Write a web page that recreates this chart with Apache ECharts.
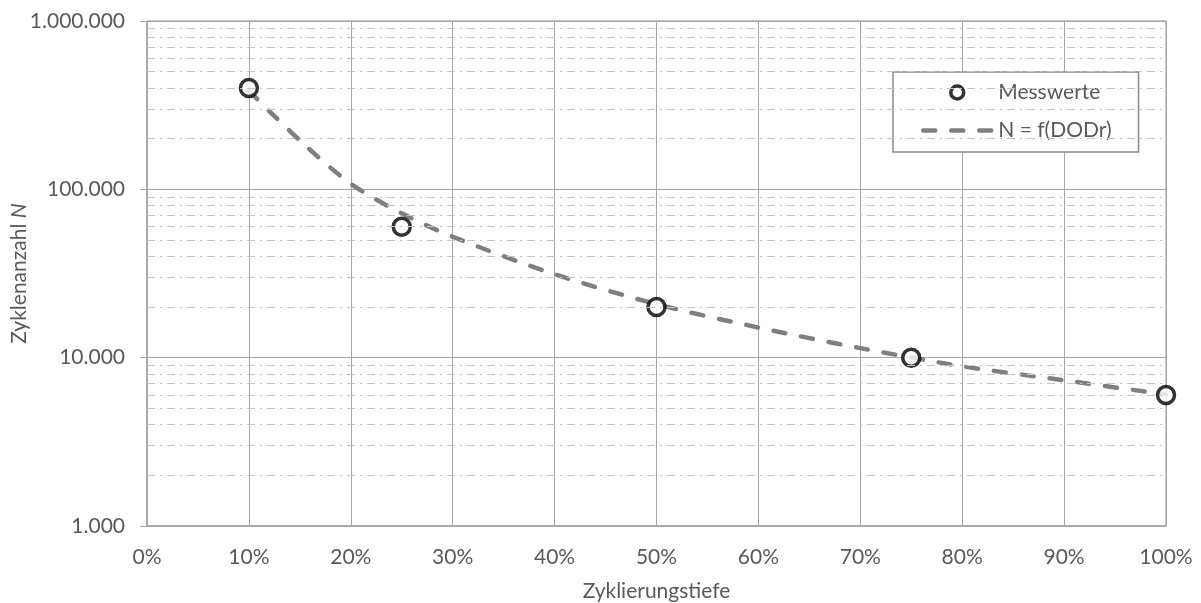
<!DOCTYPE html>
<html>
<head>
    <meta charset="utf-8">
    <title>Zyklenanzahl</title>
    <script src="https://cdn.jsdelivr.net/npm/echarts@6/dist/echarts.min.js"></script>
    <style>
        body { margin: 0; background: #fff; }
        #chart { width: 1201px; height: 603px; }
    </style>
</head>
<body>
    <div id="chart"></div>
    <script type="text/javascript">
        // Messwerte: Zyklierungstiefe (%) / Zyklenanzahl
        var messX = [10, 25, 50, 75, 100];
        var messN = [400000, 60000, 20000, 10000, 6000];

        // Trendlinie N = f(DODr)
        var fitX = [10, 15, 20, 25, 30, 40, 50, 60, 70, 80, 90, 100];
        var fitN = [385000, 195000, 108000, 72000, 52300, 31300, 20800, 15100, 11400, 8890, 7340, 6040];

        // Hilfsgitterlinien (2..9 je Dekade)
        var minorGrid = [2000, 3000, 4000, 5000, 6000, 7000, 8000, 9000,
                         20000, 30000, 40000, 50000, 60000, 70000, 80000, 90000,
                         200000, 300000, 400000, 500000, 600000, 700000, 800000, 900000];

        var font = 'Lato';
        var textCol = '#595959';

        function punkte(v){
            return String(v).replace(/\B(?=(\d{3})+(?!\d))/g, '.');
        }

        var messData = [];
        for (var i=0; i<messX.length; i++) messData.push([messX[i], messN[i]]);
        var fitData = [];
        for (var j=0; j<fitX.length; j++) fitData.push([fitX[j], fitN[j]]);
        var minorLines = [];
        for (var k=0; k<minorGrid.length; k++) minorLines.push({ yAxis: minorGrid[k] });

        var myChart = echarts.init(document.getElementById('chart'));
        var option = {
            animation: false,
            grid: { left: 147, right: 35, top: 21, bottom: 77, outerBoundsMode: 'none', containLabel: false,
                    show: true, borderColor: '#8a8a8a', borderWidth: 1 },
            legend: {
                orient: 'vertical',
                left: 893, top: 72,
                data: [
                    { name: 'Messwerte', itemStyle: { color: '#fff', borderColor: '#000', borderWidth: 3.5 } },
                    { name: 'N = f(DODr)', itemStyle: { opacity: 0 },
                      lineStyle: { width: 4.5, type: [12, 16], cap: 'round', color: '#7f7f7f' } }
                ],
                backgroundColor: '#fff',
                borderColor: '#8a8a8a', borderWidth: 1.5,
                padding: [10, 27, 11, 28],
                itemWidth: 68, itemHeight: 13, itemGap: 17,
                textStyle: { fontFamily: font, fontSize: 21, color: textCol, padding: [0, 0, 0, 2] }
            },
            xAxis: {
                type: 'value', min: 0, max: 100, interval: 10,
                name: 'Zyklierungstiefe', nameLocation: 'middle', nameGap: 55, nameMoveOverlap: false,
                nameTextStyle: { fontFamily: font, fontSize: 21, color: textCol },
                axisLine: { lineStyle: { color: '#a6a6a6', width: 1.5 } },
                axisTick: { show: false },
                axisLabel: { formatter: '{value}%', fontFamily: font, fontSize: 21, color: textCol, margin: 21 },
                splitLine: { lineStyle: { color: '#a6a6a6', width: 1 } }
            },
            yAxis: {
                type: 'log', logBase: 10, min: 1000, max: 1000000,
                name: '{a|Zyklenanzahl }{b|N}', nameLocation: 'middle', nameGap: 117, nameMoveOverlap: false,
                nameTextStyle: {
                    rich: {
                        a: { fontFamily: font, fontSize: 21, color: textCol },
                        b: { fontFamily: font, fontSize: 21, color: textCol, fontStyle: 'italic' }
                    }
                },
                axisLine: { show: true, lineStyle: { color: '#a6a6a6', width: 1.5 } },
                axisTick: { show: true, length: 7, lineStyle: { color: '#a6a6a6' } },
                axisLabel: { formatter: punkte, fontFamily: font, fontSize: 21, color: textCol, margin: 22 },
                splitLine: { lineStyle: { color: '#a6a6a6', width: 1 } }
            },
            series: [
                {
                    name: 'hilfsgitter', type: 'line', data: [], z: 1, silent: true,
                    markLine: {
                        silent: true, symbol: 'none', label: { show: false },
                        lineStyle: { color: '#c4c4c4', width: 1, type: [8, 5, 2, 5] },
                        data: minorLines
                    }
                },
                {
                    name: 'N = f(DODr)', type: 'line', data: fitData, smooth: 0.3,
                    symbol: 'none', z: 3,
                    lineStyle: { color: '#7f7f7f', width: 4.5, type: [12, 16], cap: 'round' },
                    itemStyle: { color: '#7f7f7f' }
                },
                {
                    name: 'Messwerte', type: 'scatter', data: messData, z: 4,
                    symbol: 'circle', symbolSize: 17,
                    itemStyle: { color: '#fff', borderColor: '#000', borderWidth: 3.5 }
                }
            ]
        };
        myChart.setOption(option);
    </script>
</body>
</html>
